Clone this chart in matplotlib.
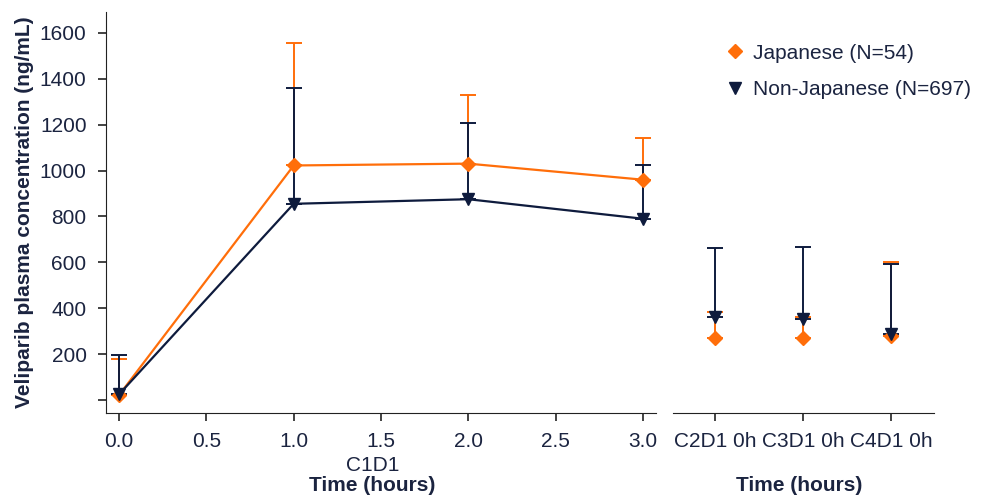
import matplotlib.pyplot as plt
from matplotlib.lines import Line2D
import numpy as np

plt.rcParams['font.family'] = ['Liberation Sans', 'DejaVu Sans']

# C1D1 profile (hours)
hours = [0.0, 1.0, 2.0, 3.0]
jp_mean = [22, 1022, 1030, 960]
jp_sd = [157, 533, 300, 180]
nj_mean = [25, 855, 875, 790]
nj_sd = [172, 505, 330, 235]

# trough samples on later cycles
visits = ['C2D1 0h', 'C3D1 0h', 'C4D1 0h']
jp_trough = [272, 272, 279]
jp_trough_sd = [113, 88, 322]
nj_trough = [362, 353, 290]
nj_trough_sd = [300, 314, 302]

yticks = [0, 200, 400, 600, 800, 1000, 1200, 1400, 1600]
ytick_labels = ['', '200', '400', '600', '800', '1000', '1200', '1400', '1600']

orange = '#FF6E0A'
navy = '#0E1B3D'
txt = '#1B2440'
fs = 15

fig = plt.figure(figsize=(9.84, 4.97), dpi=100)
ax1 = fig.add_axes([0.1077, 0.1696, 0.559, 0.806])
ax2 = fig.add_axes([0.6836, 0.1696, 0.2656, 0.806], sharey=ax1)


def draw(ax, x, m, sd, color, marker, ms, line=True, ez=2, mz=3):
    ax.errorbar(x, m, yerr=[np.zeros(len(sd)), sd], fmt='none', ecolor=color,
                elinewidth=1.4, capsize=6, capthick=1.4, zorder=ez)
    ax.plot(x, m, marker=marker, ms=ms, color=color, lw=1.6 if line else 0,
            linestyle='-' if line else 'none', zorder=mz)


draw(ax1, hours, jp_mean, jp_sd, orange, 'D', 7, ez=2, mz=3)
draw(ax1, hours, nj_mean, nj_sd, navy, 'v', 9, ez=2.5, mz=3.5)

xr = np.arange(len(visits))
draw(ax2, xr, jp_trough, jp_trough_sd, orange, 'D', 7, line=False, ez=2, mz=3)
draw(ax2, xr, nj_trough, nj_trough_sd, navy, 'v', 9, line=False, ez=2.5, mz=3.5)

ax1.set_xlim(-0.075, 3.075)
ax1.set_ylim(-55, 1690)
ax1.set_xticks([0, 0.5, 1.0, 1.5, 2.0, 2.5, 3.0])
ax1.set_xticklabels(['0.0', '0.5', '1.0', '1.5', '2.0', '2.5', '3.0'])
ax1.set_yticks(yticks)
ax1.set_yticklabels(ytick_labels)
ax1.set_ylabel('Veliparib plasma concentration (ng/mL)', fontsize=fs,
               fontweight='bold', color=txt, labelpad=4)

ax2.set_xlim(-0.48, 2.49)
ax2.set_xticks(xr)
ax2.set_xticklabels(visits)

for ax in (ax1, ax2):
    for s in ['top', 'right']:
        ax.spines[s].set_visible(False)
    ax.spines['bottom'].set_color('#222222')
    ax.spines['left'].set_color('#222222')
    ax.tick_params(direction='out', length=6, width=1.2, colors='#222222',
                   labelcolor=txt, labelsize=fs, pad=8)
ax2.spines['left'].set_visible(False)
ax2.tick_params(axis='y', left=False, labelleft=False)

fig.text(0.3785, 0.064, 'C1D1', ha='center', va='center', fontsize=fs, color=txt)
fig.text(0.3785, 0.024, 'Time (hours)', ha='center', va='center', fontsize=fs,
         fontweight='bold', color=txt)
fig.text(0.812, 0.024, 'Time (hours)', ha='center', va='center', fontsize=fs,
         fontweight='bold', color=txt)

handles = [Line2D([], [], marker='D', ms=7, color=orange, linestyle='none'),
           Line2D([], [], marker='v', ms=9, color=navy, linestyle='none')]
labels = ['Japanese (N=54)', 'Non-Japanese (N=697)']
fig.legend(handles, labels, loc='upper left', bbox_to_anchor=(0.7195, 0.95),
           frameon=False, fontsize=fs, labelcolor=txt, handlelength=0.8,
           handletextpad=0.45, labelspacing=0.85)

fig.savefig('out.png', dpi=100)
